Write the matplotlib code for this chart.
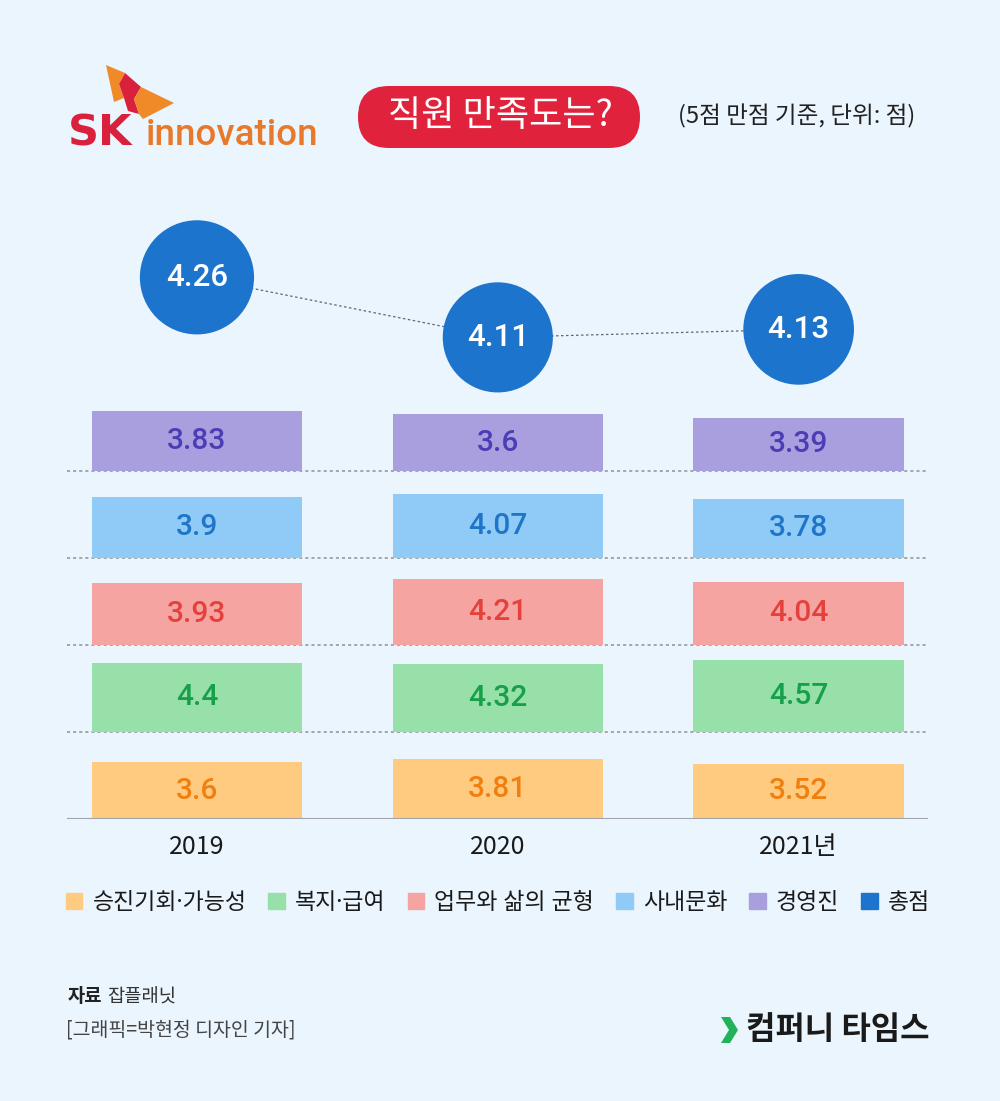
import matplotlib
matplotlib.use("Agg")
import matplotlib.pyplot as plt
from matplotlib.patches import FancyBboxPatch, Polygon, Patch

plt.rcParams['font.family'] = ['Noto Sans CJK KR', 'DejaVu Sans']

# data
years = ['2019', '2020', '2021년']
categories = ['승진기회·가능성', '복지·급여', '업무와 삶의 균형', '사내문화', '경영진']
promotion = [3.6, 3.81, 3.52]
welfare = [4.4, 4.32, 4.57]
balance = [3.93, 4.21, 4.04]
culture = [3.9, 4.07, 3.78]
management = [3.83, 3.6, 3.39]
total = [4.26, 4.11, 4.13]
total_label = '총점'

series = [promotion, welfare, balance, culture, management]
bar_colors = ['#ffcb80', '#98e0a9', '#f5a4a2', '#90cbf8', '#aa9fde']
text_colors = ['#f07f10', '#16a04a', '#e5413c', '#1f76c8', '#4b3db6']
total_color = '#1d74cc'
bg = '#eaf5fd'
num_font = ['Roboto', 'DejaVu Sans']

fig = plt.figure(figsize=(10, 11.01), dpi=100)
fig.patch.set_facecolor(bg)

# decoration layer in pixel coords
deco = fig.add_axes([0, 0, 1, 1])
deco.set_xlim(0, 1000)
deco.set_ylim(1101, 0)
deco.axis('off')

# SK logo (approx)
deco.add_patch(Polygon([(106, 65), (125, 73), (119, 84), (124, 98), (114, 102), (111, 88)],
                       closed=True, fc='#f08a28', ec='none'))
deco.add_patch(Polygon([(125, 73), (141, 87), (134, 99), (139, 114), (128, 111), (124, 98), (119, 84)],
                       closed=True, fc='#d9203c', ec='none'))
deco.add_patch(Polygon([(141, 87), (174, 103), (143, 119), (139, 114), (134, 99)],
                       closed=True, fc='#f08a28', ec='none'))
deco.text(68, 145, 'SK', fontsize=31, fontweight='bold', color='#d9203c',
          family=['DejaVu Sans'], va='baseline', ha='left')
deco.text(146, 145, 'innovation', fontsize=26.5, fontweight='medium', color='#e9792a',
          family=num_font, va='baseline', ha='left')

# title pill
deco.add_patch(FancyBboxPatch((358, 86), 282, 62, boxstyle='round,pad=0,rounding_size=31',
                              fc='#e1223c', ec='none'))
deco.text(500, 116, '직원 만족도는?', fontsize=26, color='white', ha='center', va='center')
deco.text(915, 116, '(5점 만점 기준, 단위: 점)', fontsize=17, color='#222222',
          ha='right', va='center')

# footer
deco.text(68, 997, '자료', fontsize=13.5, fontweight='bold', color='#222222', va='center')
deco.text(107, 997, '잡플래닛', fontsize=13.5, color='#333333', va='center')
deco.text(66, 1030, '[그래픽=박현정 디자인 기자]', fontsize=14, color='#444444', va='center')
deco.add_patch(Polygon([(721, 1017), (730, 1017), (738, 1030), (730, 1043), (721, 1043), (729, 1030)],
                       closed=True, fc='#22b35a', ec='none'))
deco.text(929, 1030, '컴퍼니 타임스', fontsize=23, fontweight='bold', color='#1a1a1a',
          ha='right', va='center')

# main chart
ax = fig.add_axes([0.067, 1 - 819 / 1101, 0.861, 619 / 1101])
ax.set_facecolor('none')
x = list(range(len(years)))
bar_scale = 0.1805  # row units per point
for row, (vals, bc, tc) in enumerate(zip(series, bar_colors, text_colors)):
    heights = [v * bar_scale for v in vals]
    ax.bar(x, heights, width=0.70, bottom=row, color=bc, zorder=2)
    for xi, v, h in zip(x, vals, heights):
        ax.text(xi, row + h / 2, f'{v:g}', ha='center', va='center', fontsize=21.5,
                fontweight='medium', family=num_font, color=tc, zorder=3)
    if row > 0:
        ax.axhline(row, color='#8c9196', lw=1.1, ls=(0, (2, 2)), zorder=1)
ax.axhline(0, color='#a0a4a8', lw=1.5, zorder=3)

# total bubbles
bubble_y = [t * 4.6 - 13.37 for t in total]
ax.plot(x, bubble_y, color='#666666', lw=0.9, ls=(0, (2, 2)), zorder=3)
sizes = [(t * 13.4 * 2 * 0.72) ** 2 for t in total]
ax.scatter(x, bubble_y, s=sizes, color=total_color, zorder=4, linewidths=0)
for xi, yi, t in zip(x, bubble_y, total):
    ax.text(xi, yi, f'{t:g}', ha='center', va='center', fontsize=22.5, color='white',
            fontweight='medium', family=num_font, zorder=5)

ax.set_xlim(-0.432, 2.43)
ax.set_ylim(0, 7.115)
ax.set_xticks(x)
ax.set_xticklabels(years, fontsize=18, color='#1a1a1a')
ax.tick_params(axis='x', length=0, pad=11)
ax.set_yticks([])
for s in ax.spines.values():
    s.set_visible(False)

# legend
handles = [Patch(color=c, label=l) for c, l in zip(bar_colors, categories)]
handles.append(Patch(color=total_color, label=total_label))
fig.legend(handles=handles, loc='center', bbox_to_anchor=(0.498, 1 - 903 / 1101), ncol=6,
           frameon=False, handlelength=0.72, handleheight=0.72,
           handletextpad=0.45, columnspacing=0.95, labelcolor='#1a1a1a',
           prop={'family': ['Noto Sans', 'Noto Sans CJK KR'], 'size': 16.5})

fig.savefig('out.png', dpi=100, facecolor=bg)
